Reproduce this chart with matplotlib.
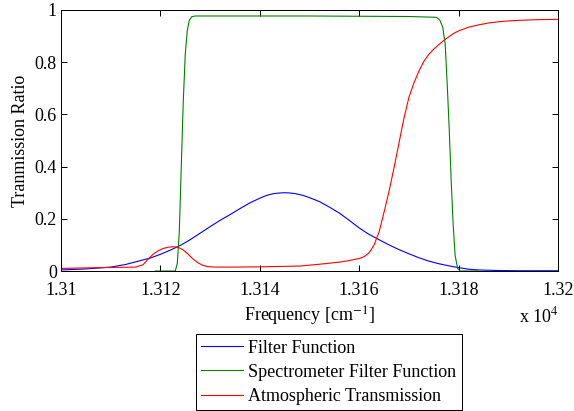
import matplotlib
matplotlib.use("Agg")
import matplotlib.pyplot as plt
from matplotlib.ticker import FuncFormatter

# Filter function (blue)
filter_freq = [13100, 13105, 13110, 13113, 13116, 13118, 13120, 13122, 13124, 13126,
               13128, 13130, 13132, 13134, 13136, 13138, 13140, 13141, 13142, 13143,
               13144, 13145, 13146, 13147, 13148, 13149, 13150, 13152, 13154, 13156,
               13158, 13160, 13162, 13164, 13166, 13168, 13170, 13172, 13174, 13176,
               13178, 13180, 13182, 13184, 13188, 13192, 13200]
filter_val = [0.004, 0.008, 0.015, 0.025, 0.04, 0.05, 0.064, 0.08, 0.098, 0.12,
              0.145, 0.17, 0.194, 0.216, 0.239, 0.261, 0.279, 0.287, 0.293, 0.297,
              0.299, 0.3, 0.299, 0.297, 0.293, 0.288, 0.281, 0.266, 0.245, 0.222,
              0.194, 0.165, 0.14, 0.12, 0.1, 0.082, 0.066, 0.051, 0.038, 0.028,
              0.02, 0.013, 0.007, 0.004, 0.002, 0.001, 0.001]

# Spectrometer filter function (green)
spec_freq = [13119, 13123, 13123.4, 13123.8, 13124.2, 13124.6, 13125.0, 13125.4,
             13125.8, 13126.3, 13127, 13150, 13170, 13175.5, 13176.2, 13176.8, 13177.3,
             13177.7, 13178.1, 13178.5, 13178.9, 13179.3, 13179.8, 13180.3, 13184]
spec_val = [0.0, 0.0, 0.03, 0.15, 0.4, 0.65, 0.83, 0.92,
            0.96, 0.974, 0.977, 0.977, 0.975, 0.972, 0.962, 0.935, 0.87,
            0.72, 0.55, 0.35, 0.18, 0.06, 0.01, 0.0, 0.0]

# Atmospheric transmission (red)
atm_freq = [13100, 13108, 13115, 13116.5, 13117.5, 13118.5, 13119.5, 13120.5, 13121.5,
            13122.5, 13123.5, 13124.5, 13125.5, 13126.5, 13127.5, 13128.5, 13129.5,
            13131, 13134.6, 13140, 13148, 13152, 13156, 13158, 13160, 13161, 13162,
            13163, 13164, 13165, 13166, 13167, 13168, 13169, 13170, 13171, 13172,
            13173, 13174, 13175, 13176, 13177, 13178, 13179, 13180, 13182, 13184,
            13186, 13188, 13190, 13193, 13196, 13200]
atm_val = [0.01, 0.013, 0.015, 0.024, 0.045, 0.064, 0.077, 0.086, 0.091,
           0.093, 0.091, 0.082, 0.066, 0.047, 0.032, 0.022, 0.017,
           0.015, 0.015, 0.016, 0.019, 0.026, 0.034, 0.04, 0.048, 0.055, 0.07,
           0.1, 0.15, 0.225, 0.305, 0.395, 0.49, 0.585, 0.665, 0.72, 0.765,
           0.803, 0.83, 0.85, 0.867, 0.883, 0.897, 0.91, 0.92, 0.934, 0.943,
           0.95, 0.955, 0.958, 0.961, 0.963, 0.964]

plt.rcParams['font.family'] = ['Liberation Serif', 'DejaVu Serif']
plt.rcParams['mathtext.fontset'] = 'stix'

fig = plt.figure(figsize=(5.74, 4.11), dpi=100)
ax = fig.add_axes([0.1063, 0.3406, 0.8658, 0.6351])

ax.plot(filter_freq, filter_val, color=(0, 0, 1), lw=0.8, label='Filter Function')
ax.plot(spec_freq, spec_val, color=(0, 0.5, 0), lw=0.8, label='Spectrometer Filter Function')
ax.plot(atm_freq, atm_val, color=(1, 0, 0), lw=0.8, label='Atmospheric Transmission')

ax.set_xlim(13100, 13200)
ax.set_ylim(0, 1)
ax.set_xticks([13100, 13120, 13140, 13160, 13180, 13200])
ax.set_yticks([0, 0.2, 0.4, 0.6, 0.8, 1])
ax.xaxis.set_major_formatter(FuncFormatter(lambda v, p: ('%g' % (v / 1e4))))
ax.yaxis.set_major_formatter(FuncFormatter(lambda v, p: ('%g' % v)))
ax.tick_params(direction='in', top=True, right=True, labelsize=13, length=4, width=0.72)
ax.tick_params(axis='x', pad=8)
ax.tick_params(axis='y', pad=3)
for s in ax.spines.values():
    s.set_linewidth(0.72)

ax.set_xlabel('Frequency [cm$^{-1}$]', fontsize=13, labelpad=4)
ax.set_ylabel('Tranmission Ratio', fontsize=13, labelpad=4)
fig.text(0.905, 0.215, 'x 10$^{4}$', fontsize=13)

leg = fig.legend(loc='upper center', bbox_to_anchor=(0.573, 0.187), fontsize=13,
                 fancybox=False, edgecolor='black', framealpha=1, borderaxespad=0,
                 handlelength=2.3, handletextpad=0.3, borderpad=0.3, labelspacing=0.4)
leg.get_frame().set_linewidth(0.72)

fig.savefig('out.png', dpi=100)
